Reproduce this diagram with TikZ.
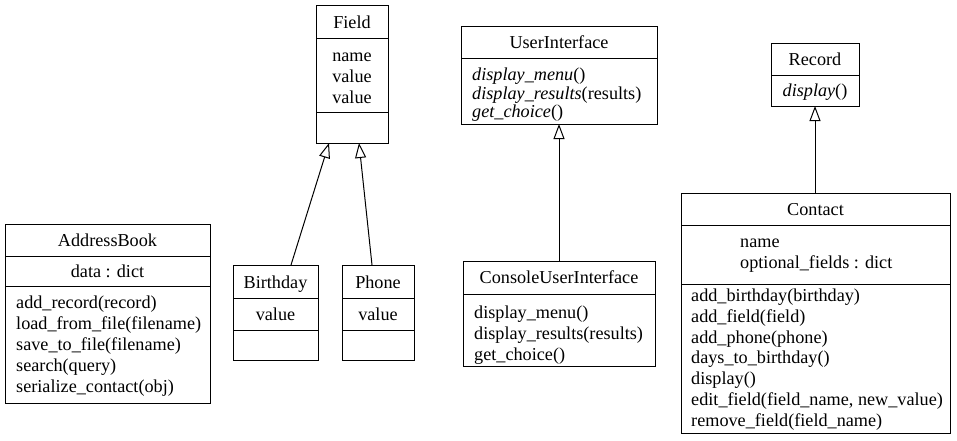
\documentclass[tikz,border=0pt]{standalone}
\usepackage{fontspec}
\setmainfont{Liberation Serif}
\newfontfamily\umlfont{Liberation Serif}
\usetikzlibrary{arrows.meta}
\tikzset{
  box/.style={draw=black, line width=1pt, fill=white},
  sep/.style={draw=black, line width=1pt},
  ctxt/.style={inner sep=0pt, anchor=base, font=\umlfont\fontsize{18.2}{21}\selectfont},
  ltxt/.style={inner sep=0pt, anchor=base west, font=\umlfont\fontsize{18.2}{21}\selectfont},
  inherit/.style={draw=black, line width=1pt, -{Triangle[open, length=15pt, width=11pt, line width=1pt]}},
}
\begin{document}
\begin{tikzpicture}[x=1pt, y=-1pt]
\useasboundingbox (0,0) rectangle (957,440);

% AddressBook
\draw[box] (5,224) rectangle (210,403);
\draw[sep] (5,256) -- (210,256);
\draw[sep] (5,286) -- (210,286);
\node[ctxt] (ab) at (107.5,246) {AddressBook};
\node[ctxt] (abattr) at (107.5,277) {data : dict};
\node[ltxt] (abm1) at (16,308) {add\_record(record)};
\node[ltxt] (abm2) at (16,329) {load\_from\_file(filename)};
\node[ltxt] (abm3) at (16,350) {save\_to\_file(filename)};
\node[ltxt] (abm4) at (16,371) {search(query)};
\node[ltxt] (abm5) at (16,392) {serialize\_contact(obj)};

% Field
\draw[box] (316,5) rectangle (388,143);
\draw[sep] (316,38) -- (388,38);
\draw[sep] (316,112) -- (388,112);
\node[ctxt] (fld) at (352,28) {Field};
\node[ctxt] (fa1) at (352,61) {name};
\node[ctxt] (fa2) at (352,82) {value};
\node[ctxt] (fa3) at (352,103) {value};
\coordinate (fldL) at (329,143);
\coordinate (fldR) at (359,143);

% Birthday
\draw[box] (233,265) rectangle (318,360);
\draw[sep] (233,298) -- (318,298);
\draw[sep] (233,330) -- (318,330);
\node[ctxt] (bd) at (275.5,288) {Birthday};
\node[ctxt] (bda) at (275.5,320) {value};
\coordinate (bdtop) at (291,265);

% Phone
\draw[box] (342,265) rectangle (414,360);
\draw[sep] (342,298) -- (414,298);
\draw[sep] (342,330) -- (414,330);
\node[ctxt] (ph) at (378,288) {Phone};
\node[ctxt] (pha) at (378,320) {value};
\coordinate (phtop) at (372,265);

% UserInterface
\draw[box] (461,26) rectangle (657,124);
\draw[sep] (461,58) -- (657,58);
\node[ctxt] (ui) at (559,48) {UserInterface};
\node[ltxt] (uim1) at (472,80) {\textit{display\_menu}()};
\node[ltxt] (uim2) at (472,99) {\textit{display\_results}(results)};
\node[ltxt] (uim3) at (472,117) {\textit{get\_choice}()};
\coordinate (uibot) at (559,124);

% ConsoleUserInterface
\draw[box] (463,261) rectangle (655,366);
\draw[sep] (463,294) -- (655,294);
\node[ctxt] (cui) at (559,283) {ConsoleUserInterface};
\node[ltxt] (cuim1) at (474,318) {display\_menu()};
\node[ltxt] (cuim2) at (474,339) {display\_results(results)};
\node[ltxt] (cuim3) at (474,360) {get\_choice()};
\coordinate (cuitop) at (559,261);

% Record
\draw[box] (771,43) rectangle (859,106);
\draw[sep] (771,75) -- (859,75);
\node[ctxt] (rec) at (815,65) {Record};
\node[ctxt] (recm) at (815,96) {\textit{display}()};
\coordinate (recbot) at (815,106);

% Contact
\draw[box] (681,193) rectangle (950,433);
\draw[sep] (681,225) -- (950,225);
\draw[sep] (681,284) -- (950,284);
\node[ctxt] (con) at (815.5,215) {Contact};
\node[ltxt] (cona1) at (740,247) {name};
\node[ltxt] (cona2) at (740,268) {optional\_fields : dict};
\node[ltxt] (conm1) at (691,301) {add\_birthday(birthday)};
\node[ltxt] (conm2) at (691,322) {add\_field(field)};
\node[ltxt] (conm3) at (691,343) {add\_phone(phone)};
\node[ltxt] (conm4) at (691,363) {days\_to\_birthday()};
\node[ltxt] (conm5) at (691,384) {display()};
\node[ltxt] (conm6) at (691,405) {edit\_field(field\_name, new\_value)};
\node[ltxt] (conm7) at (691,426) {remove\_field(field\_name)};
\coordinate (contop) at (815,193);

% Inheritance
\draw[inherit] (bdtop) -- (fldL);
\draw[inherit] (phtop) -- (fldR);
\draw[inherit] (cuitop) -- (uibot);
\draw[inherit] (contop) -- (recbot);
\end{tikzpicture}
\end{document}
